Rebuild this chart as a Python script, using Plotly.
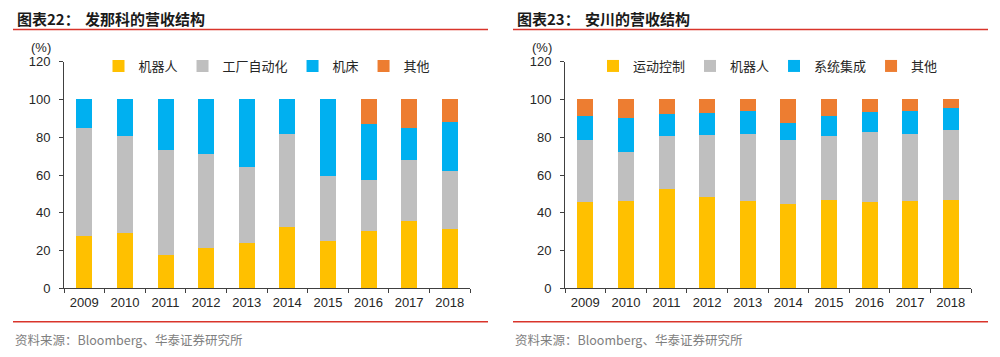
import plotly.graph_objects as go

years = ['2009', '2010', '2011', '2012', '2013', '2014', '2015', '2016', '2017', '2018']

# Fanuc revenue structure (%)
fanuc_names = ['机器人', '工厂自动化', '机床', '其他']
fanuc_robot = [27.7, 29.1, 17.5, 21.4, 23.8, 32.6, 25.0, 30.3, 35.4, 31.2]
fanuc_fa = [57.3, 51.8, 55.5, 49.7, 40.5, 49.3, 34.4, 27.0, 32.8, 30.9]
fanuc_machine = [15.0, 19.1, 27.0, 28.9, 35.7, 18.1, 40.6, 29.5, 16.8, 25.9]
fanuc_other = [0, 0, 0, 0, 0, 0, 0, 13.2, 15.0, 12.0]

# Yaskawa revenue structure (%)
yaskawa_names = ['运动控制', '机器人', '系统集成', '其他']
yaskawa_motion = [45.7, 46.4, 52.5, 48.5, 46.2, 44.8, 46.9, 45.5, 46.1, 46.9]
yaskawa_robot = [32.9, 25.6, 28.4, 32.9, 35.7, 33.5, 34.0, 37.5, 35.8, 36.8]
yaskawa_sys = [12.9, 18.3, 11.3, 11.5, 11.8, 9.5, 10.1, 10.2, 12.0, 11.8]
yaskawa_other = [8.5, 9.7, 7.8, 7.1, 6.3, 12.2, 9.0, 6.8, 6.1, 4.5]

colors = ['#FFC000', '#BFBFBF', '#00B0F0', '#ED7D31']

W, H = 1000, 357
def px(v):
    return v / W
def py(v):
    return 1 - v / H

fig = go.Figure()

for name, vals, c in zip(fanuc_names, [fanuc_robot, fanuc_fa, fanuc_machine, fanuc_other], colors):
    fig.add_trace(go.Bar(x=years, y=vals, name=name, marker=dict(color=c, line=dict(width=0)),
                         xaxis='x', yaxis='y', legend='legend'))
for name, vals, c in zip(yaskawa_names, [yaskawa_motion, yaskawa_robot, yaskawa_sys, yaskawa_other], colors):
    fig.add_trace(go.Bar(x=years, y=vals, name=name, marker=dict(color=c, line=dict(width=0)),
                         xaxis='x2', yaxis='y2', legend='legend2'))

axis_color = '#404040'
tick_font = dict(family='Liberation Sans, Arial', size=13, color='#262626')

xcommon = dict(type='category', showline=True, linecolor=axis_color, linewidth=1,
               ticks='outside', tickson='boundaries', ticklen=4, tickcolor=axis_color,
               tickfont=tick_font, showgrid=False, zeroline=False, fixedrange=True,
               automargin=False, ticklabelstandoff=2)
ycommon = dict(range=[0, 120], dtick=20, showline=True, linecolor=axis_color, linewidth=1,
               ticks='outside', ticklen=4, tickcolor=axis_color, tickfont=tick_font,
               showgrid=False, zeroline=False, fixedrange=True, automargin=False,
               ticklabelstandoff=6)

ydom = [py(288.3), py(61.7)]
legend_font = dict(family='Noto Sans CJK SC', size=13, color='#262626')

fig.update_layout(
    width=W, height=H, autosize=False,
    margin=dict(l=0, r=0, t=0, b=0, pad=0),
    paper_bgcolor='white', plot_bgcolor='white',
    barmode='stack', bargap=0.606,
    showlegend=True,
    xaxis=dict(domain=[px(64), px(470)], anchor='y', **xcommon),
    yaxis=dict(domain=ydom, anchor='x', **ycommon),
    xaxis2=dict(domain=[px(565), px(971)], anchor='y2', **xcommon),
    yaxis2=dict(domain=ydom, anchor='x2', **ycommon),
    legend=dict(orientation='h', x=px(267), xanchor='center', y=py(66), yanchor='middle',
                font=legend_font, bgcolor='rgba(0,0,0,0)', traceorder='normal'),
    legend2=dict(orientation='h', x=px(768), xanchor='center', y=py(66), yanchor='middle',
                 font=legend_font, bgcolor='rgba(0,0,0,0)', traceorder='normal'),
)

red = '#D9342B'
shapes = []
for x0, x1 in [(13, 488), (513, 988)]:
    shapes.append(dict(type='line', xref='paper', yref='paper', x0=px(x0), x1=px(x1),
                       y0=py(29.5), y1=py(29.5), line=dict(color=red, width=1.5)))
    shapes.append(dict(type='line', xref='paper', yref='paper', x0=px(x0), x1=px(x1),
                       y0=py(321.7), y1=py(321.7), line=dict(color=red, width=1.5)))
fig.update_layout(shapes=shapes)

title_font = dict(family='Noto Sans CJK SC', size=15, color='#1a1a1a')
ann = []
for x_fig, x_name, fig_lbl, name in [(15, 83, '<b>图表22：</b>', '<b>发那科的营收结构</b>'),
                                     (515, 583, '<b>图表23：</b>', '<b>安川的营收结构</b>')]:
    ann.append(dict(xref='paper', yref='paper', x=px(x_fig), y=py(18.5), xanchor='left', yanchor='middle',
                    text=fig_lbl, showarrow=False, font=title_font))
    ann.append(dict(xref='paper', yref='paper', x=px(x_name), y=py(18.5), xanchor='left', yanchor='middle',
                    text=name, showarrow=False, font=title_font))
for xc in [41, 542]:
    ann.append(dict(xref='paper', yref='paper', x=px(xc), y=py(47.5), xanchor='center', yanchor='middle',
                    text='(%)', showarrow=False, font=tick_font))
for xs in [13, 513]:
    ann.append(dict(xref='paper', yref='paper', x=px(xs), y=py(339), xanchor='left', yanchor='middle',
                    text='资料来源：Bloomberg、华泰证券研究所', showarrow=False,
                    font=dict(family='Noto Sans CJK SC', size=12.5, color='#808080')))
fig.update_layout(annotations=ann)

fig.write_html('out.html', config={'displayModeBar': False},
               post_script="document.body.style.margin='0';document.body.style.overflow='hidden';")
